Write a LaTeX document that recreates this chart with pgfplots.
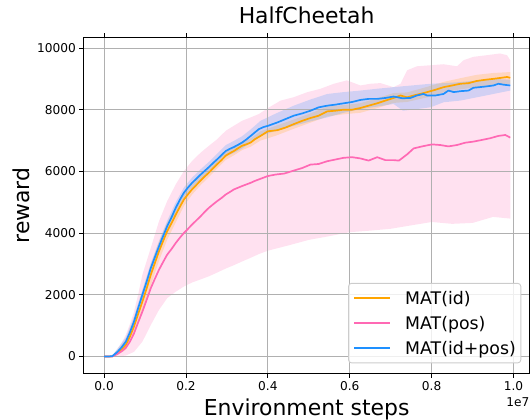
\documentclass[border=0pt]{standalone}
\usepackage{pgfplots}
\usepackage{pgfplotstable}
\pgfplotsset{compat=1.18}
\usepgfplotslibrary{fillbetween}
\usepackage{fontspec}
\setmainfont{DejaVu Sans}
\definecolor{cOrange}{RGB}{255,165,0}
\definecolor{cPink}{RGB}{255,105,180}
\definecolor{cBlue}{RGB}{30,144,255}
\definecolor{gridgray}{RGB}{176,176,176}
\definecolor{legendgray}{RGB}{204,204,204}

\pgfplotsset{
  layers/fillgrid/.define layer set={axis background,pre main,axis grid,axis ticks,axis lines,axis tick labels,main,axis descriptions,axis foreground}{
    grid style={/pgfplots/on layer=axis grid},
    tick style={/pgfplots/on layer=axis ticks},
    axis line style={/pgfplots/on layer=axis lines},
    label style={/pgfplots/on layer=axis descriptions},
    legend style={/pgfplots/on layer=axis descriptions},
    title style={/pgfplots/on layer=axis descriptions},
    ticklabel style={/pgfplots/on layer=axis tick labels},
    axis background@ style={/pgfplots/on layer=axis background},
  },
}

% x in units of 1e7
\pgfplotstableread{
x y
0.000 0
0.010 0
0.020 10
0.0325 150
0.043 300
0.053 480
0.063 780
0.073 1130
0.083 1560
0.0935 2000
0.104 2430
0.114 2865
0.124 3220
0.134 3570
0.144 3900
0.154 4220
0.165 4520
0.175 4820
0.185 5080
0.195 5310
0.205 5480
0.215 5630
0.226 5770
0.236 5900
0.246 6020
0.256 6140
0.266 6270
0.276 6390
0.287 6530
0.297 6660
0.307 6730
0.317 6790
0.327 6860
0.337 6935
0.348 7040
0.358 7150
0.368 7260
0.378 7370
0.390 7440
0.400 7476
0.423 7585
0.443 7695
0.463 7805
0.484 7880
0.504 7967
0.524 8076
0.545 8130
0.565 8164
0.585 8207
0.606 8250
0.626 8316
0.646 8350
0.667 8350
0.687 8380
0.707 8425
0.718 8400
0.728 8370
0.748 8380
0.764 8460
0.780 8510
0.789 8460
0.809 8460
0.829 8510
0.841 8620
0.854 8570
0.870 8600
0.890 8620
0.902 8710
0.931 8750
0.951 8785
0.963 8840
0.976 8810
0.992 8785
}\blueMean

\pgfplotstableread{
x lo hi
0.000 0 0
0.020 0 30
0.0325 60 250
0.053 360 620
0.073 970 1300
0.0935 1830 2170
0.114 2700 3030
0.134 3400 3740
0.154 4050 4400
0.175 4650 5000
0.195 5150 5480
0.215 5470 5800
0.236 5740 6070
0.256 5980 6310
0.276 6220 6570
0.297 6480 6850
0.317 6600 6990
0.337 6740 7140
0.358 6940 7360
0.382 7150 7640
0.420 7320 7880
0.463 7476 8130
0.504 7620 8330
0.545 7750 8510
0.585 7900 8570
0.626 8020 8620
0.667 8100 8680
0.707 8185 8730
0.730 7967 8760
0.764 8020 8800
0.797 8076 8840
0.829 8240 8860
0.870 8295 8895
0.910 8400 8950
0.951 8510 9000
0.992 8620 8970
}\blueBand

\pgfplotstableread{
x y
0.000 0
0.010 0
0.020 5
0.0325 110
0.043 230
0.053 370
0.063 640
0.073 970
0.083 1370
0.0935 1780
0.104 2210
0.114 2650
0.124 3030
0.134 3410
0.144 3740
0.154 4060
0.165 4330
0.175 4600
0.185 4850
0.195 5090
0.205 5260
0.215 5420
0.226 5570
0.236 5710
0.246 5840
0.256 5960
0.266 6100
0.276 6230
0.287 6370
0.297 6510
0.307 6590
0.317 6660
0.327 6750
0.337 6830
0.348 6880
0.358 6935
0.368 7040
0.382 7150
0.400 7300
0.423 7335
0.443 7420
0.463 7530
0.484 7640
0.504 7730
0.524 7805
0.545 7945
0.565 7967
0.585 8000
0.606 8000
0.626 8055
0.646 8130
0.667 8207
0.687 8295
0.707 8380
0.724 8460
0.740 8400
0.756 8460
0.772 8510
0.789 8570
0.809 8645
0.829 8730
0.850 8785
0.870 8840
0.890 8860
0.910 8930
0.931 8970
0.951 9000
0.971 9035
0.984 9060
0.992 9035
}\orangeMean

\pgfplotstableread{
x lo hi
0.000 0 0
0.020 0 20
0.0325 40 200
0.053 220 550
0.073 700 1250
0.0935 1450 2100
0.114 2300 2980
0.134 3100 3720
0.154 3780 4340
0.175 4350 4850
0.195 4880 5300
0.215 5250 5590
0.236 5560 5860
0.256 5820 6100
0.276 6090 6370
0.297 6370 6650
0.317 6520 6800
0.337 6690 6970
0.358 6800 7070
0.382 7000 7300
0.420 7160 7480
0.463 7380 7680
0.504 7580 7880
0.545 7780 8100
0.585 7850 8150
0.626 7900 8210
0.667 8050 8370
0.707 8220 8540
0.740 8250 8560
0.789 8400 8740
0.829 8560 8900
0.870 8660 9020
0.910 8730 9130
0.951 8820 9190
0.992 8840 9220
}\orangeBand

\pgfplotstableread{
x y
0.000 0
0.010 0
0.020 0
0.0325 85
0.043 170
0.053 280
0.063 480
0.073 750
0.083 1100
0.0935 1455
0.104 1840
0.114 2215
0.124 2520
0.134 2810
0.144 3060
0.154 3300
0.165 3490
0.175 3680
0.185 3850
0.195 4005
0.205 4140
0.215 4280
0.226 4420
0.236 4550
0.246 4690
0.256 4820
0.266 4930
0.276 5035
0.287 5140
0.297 5250
0.307 5330
0.317 5415
0.327 5470
0.337 5525
0.348 5580
0.358 5630
0.368 5690
0.378 5740
0.390 5800
0.400 5850
0.420 5900
0.440 5930
0.463 6025
0.484 6110
0.504 6220
0.524 6240
0.545 6330
0.565 6385
0.585 6440
0.606 6460
0.626 6420
0.646 6350
0.667 6460
0.687 6365
0.707 6365
0.720 6350
0.740 6550
0.756 6745
0.780 6820
0.801 6875
0.821 6855
0.841 6810
0.862 6855
0.882 6930
0.902 6965
0.923 7020
0.943 7075
0.963 7150
0.980 7180
0.992 7095
}\pinkMean

\pgfplotstableread{
x y
0.000 0
0.020 30
0.0325 250
0.043 450
0.053 700
0.063 1050
0.073 1450
0.083 2000
0.0935 2650
0.114 3520
0.134 4380
0.154 5035
0.175 5580
0.195 6010
0.215 6340
0.236 6610
0.256 6830
0.276 7040
0.297 7315
0.317 7480
0.337 7640
0.358 7750
0.378 7860
0.400 8050
0.431 8295
0.463 8404
0.496 8567
0.528 8676
0.561 8840
0.593 8950
0.626 8785
0.650 8840
0.675 8862
0.707 8730
0.724 8840
0.740 9276
0.764 9407
0.797 9440
0.829 9473
0.862 9407
0.878 9604
0.902 9713
0.935 9767
0.967 9822
0.984 9767
0.992 9604
}\pinkUpper

\pgfplotstableread{
x y
0.000 0
0.030 0
0.053 30
0.073 150
0.0935 480
0.114 1020
0.134 1510
0.154 1890
0.175 2100
0.195 2270
0.215 2400
0.236 2500
0.256 2600
0.276 2720
0.297 2850
0.317 2960
0.337 3080
0.358 3200
0.378 3320
0.400 3430
0.450 3600
0.500 3780
0.550 3900
0.600 4030
0.650 4080
0.700 4140
0.750 4250
0.800 4360
0.850 4300
0.900 4330
0.950 4525
0.992 4470
}\pinkLower

\begin{document}
\begin{tikzpicture}
\begin{axis}[
  set layers=fillgrid,
  scale only axis,
  width=445.7bp, height=335.2bp,
  xmin=-0.0496, xmax=1.039,
  ymin=-538, ymax=10327,
  scaled ticks=false,
  xtick={0,0.2,0.4,0.6,0.8,1.0},
  xticklabels={0.0,0.2,0.4,0.6,0.8,1.0},
  ytick={0,2000,4000,6000,8000,10000},
  yticklabels={0,2000,4000,6000,8000,10000},
  grid=major,
  major grid style={gridgray, line width=0.9bp},
  tick align=outside,
  major tick length=4.5bp,
  tick style={black, line width=0.9bp},
  axis line style={black, line width=0.9bp},
  ticklabel style={font=\fontsize{12.2}{14}\selectfont},
  title={HalfCheetah},
  every axis title/.style={font=\fontsize{22}{26}\selectfont, at={(axis description cs:0.5,1.0424)}, anchor=base},
  xlabel={Environment steps},
  xlabel style={font=\fontsize{22}{26}\selectfont, at={(axis description cs:0.5,-0.1265)}, anchor=base},
  ylabel={reward},
  ylabel style={font=\fontsize{22}{26}\selectfont, at={(axis description cs:-0.1221,0.5)}, anchor=base},
  legend style={at={(axis description cs:0.9815,0.0292)}, anchor=south east,
    draw=legendgray, line width=0.9bp, rounded corners=3bp, fill=white, fill opacity=0.8, text opacity=1,
    font=\fontsize{17.4}{20}\selectfont, inner xsep=5bp, inner ysep=8.5bp,
    /tikz/row sep=12.2bp, /tikz/column sep=14bp,
    nodes={inner sep=0bp, text height=12.7bp, text depth=0bp}},
  legend cell align=left,
  legend image code/.code={\draw[#1, line width=1.7bp] (0bp,0bp) -- (36bp,0bp);},
]
% bands
\addplot[draw=none, name path=pu, forget plot] table[x=x,y=y] {\pinkUpper};
\addplot[draw=none, name path=pl, forget plot] table[x=x,y=y] {\pinkLower};
\addplot[fill=cPink, fill opacity=0.2, draw=none, forget plot] fill between[of=pu and pl];
\addplot[draw=none, name path=ou, forget plot] table[x=x,y=hi] {\orangeBand};
\addplot[draw=none, name path=ol, forget plot] table[x=x,y=lo] {\orangeBand};
\addplot[fill=cOrange, fill opacity=0.2, draw=none, forget plot] fill between[of=ou and ol];
\addplot[draw=none, name path=bu, forget plot] table[x=x,y=hi] {\blueBand};
\addplot[draw=none, name path=bl, forget plot] table[x=x,y=lo] {\blueBand};
\addplot[fill=cBlue, fill opacity=0.2, draw=none, forget plot] fill between[of=bu and bl];
% means
\addplot[cOrange, line width=1.7bp, line join=round] table[x=x,y=y] {\orangeMean};
\addlegendentry{MAT(id)}
\addplot[cPink, line width=1.7bp, line join=round] table[x=x,y=y] {\pinkMean};
\addlegendentry{MAT(pos)}
\addplot[cBlue, line width=1.7bp, line join=round] table[x=x,y=y] {\blueMean};
\addlegendentry{MAT(id+pos)}
\end{axis}
\node[anchor=base east, font=\fontsize{12.2}{14}\selectfont, inner sep=0pt] at ([yshift=-32.9bp]current axis.south east) {1e7};
\pgfresetboundingbox
\path[use as bounding box] ([xshift=-83.8bp,yshift=-46.9bp]current axis.south west) rectangle ([xshift=0.5bp,yshift=37.9bp]current axis.north east);
\end{tikzpicture}
\end{document}
